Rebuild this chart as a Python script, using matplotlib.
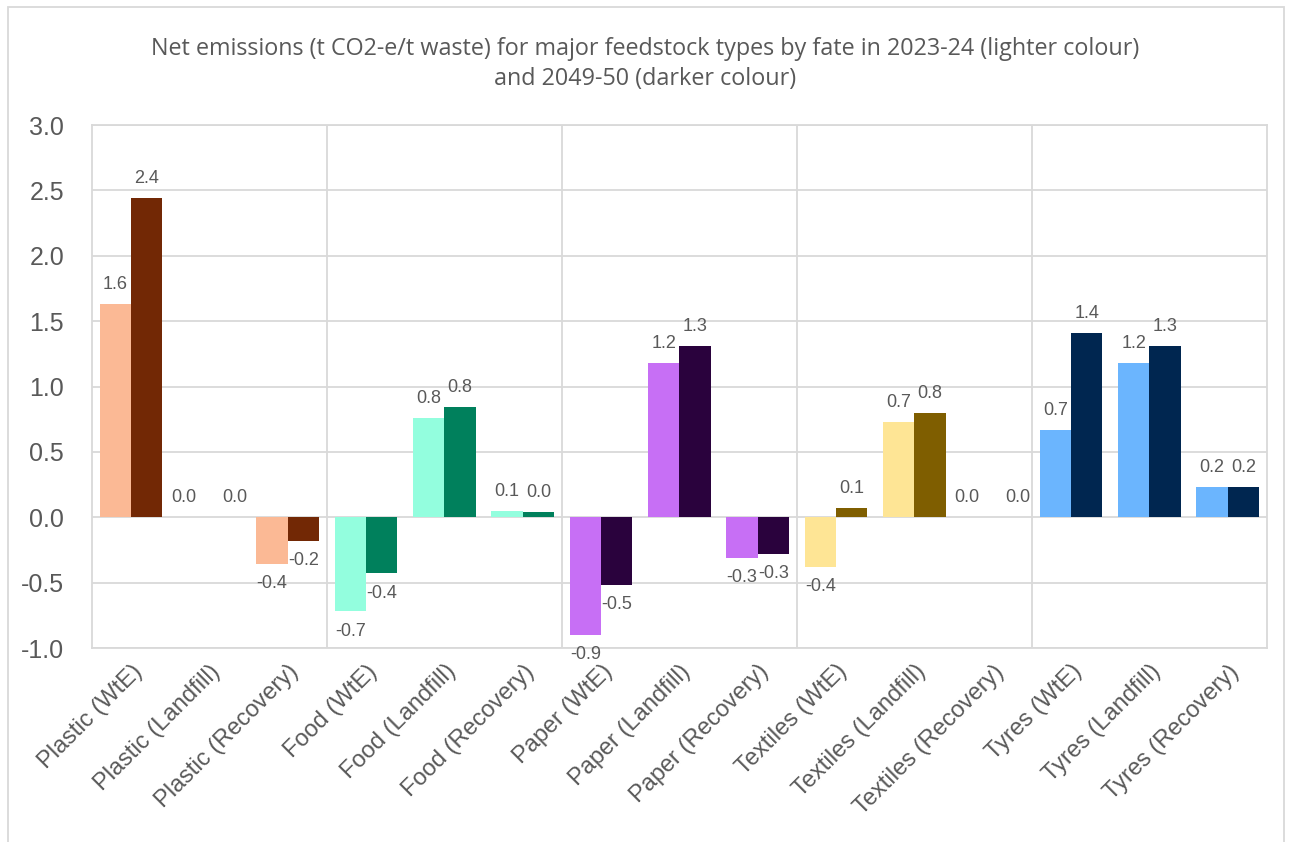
import numpy as np
import matplotlib
matplotlib.use("Agg")
import matplotlib.pyplot as plt
from matplotlib.patches import Rectangle

plt.rcParams['font.family'] = ['Liberation Sans', 'DejaVu Sans']

# datos
categorias = ["Plastic (WtE)", "Plastic (Landfill)", "Plastic (Recovery)",
              "Food (WtE)", "Food (Landfill)", "Food (Recovery)",
              "Paper (WtE)", "Paper (Landfill)", "Paper (Recovery)",
              "Textiles (WtE)", "Textiles (Landfill)", "Textiles (Recovery)",
              "Tyres (WtE)", "Tyres (Landfill)", "Tyres (Recovery)"]
valores_2024 = [1.63, 0.0, -0.36, -0.72, 0.76, 0.05, -0.90, 1.18, -0.31,
                -0.38, 0.73, 0.0, 0.67, 1.18, 0.23]
valores_2050 = [2.44, 0.0, -0.18, -0.43, 0.84, 0.04, -0.52, 1.31, -0.28,
                0.07, 0.80, 0.0, 1.41, 1.31, 0.23]
colores_claros = ["#FBB995"] * 3 + ["#93FEDE"] * 3 + ["#C76FF5"] * 3 + ["#FEE595"] * 3 + ["#6BB5FE"] * 3
colores_oscuros = ["#722805"] * 3 + ["#00805C"] * 3 + ["#2A023D"] * 3 + ["#7F5E00"] * 3 + ["#002650"] * 3

gris = "#595959"
grid = "#D9D9D9"

fig = plt.figure(figsize=(12.9, 8.42), dpi=100)
ax = fig.add_axes([0.0713, 0.2304, 0.9107, 0.6211])

x = np.arange(len(categorias))
ancho = 0.4
b1 = ax.bar(x - ancho / 2, valores_2024, ancho, color=colores_claros, zorder=3)
b2 = ax.bar(x + ancho / 2, valores_2050, ancho, color=colores_oscuros, zorder=3)

# etiquetas de datos
for barras, vals, dx in [(b1, valores_2024, -7), (b2, valores_2050, 7)]:
    for barra, v in zip(barras, vals):
        cx = barra.get_x() + barra.get_width() / 2
        if v == 0:
            ax.annotate(f"{v:.1f}", (cx, v), xytext=(dx, 8), textcoords="offset points",
                        ha="center", va="bottom", fontsize=13, color=gris)
        elif v > 0:
            ax.annotate(f"{v:.1f}", (cx, v), xytext=(0, 8), textcoords="offset points",
                        ha="center", va="bottom", fontsize=13, color=gris)
        else:
            ax.annotate(f"{v:.1f}", (cx, v), xytext=(0, -8), textcoords="offset points",
                        ha="center", va="top", fontsize=13, color=gris)

ax.set_xlim(-0.5, len(categorias) - 0.5)
ax.set_ylim(-1.0, 3.0)
ax.set_yticks(np.arange(-1.0, 3.01, 0.5))
ax.set_yticklabels([f"{t:.1f}" for t in np.arange(-1.0, 3.01, 0.5)])
ax.yaxis.grid(True, color=grid, linewidth=1.3, zorder=0)
for xv in [2.5, 5.5, 8.5, 11.5]:
    ax.axvline(xv, color=grid, linewidth=1.3, zorder=0)

ax.set_xticks(x)
ax.set_xticklabels(categorias, rotation=45, ha="right", rotation_mode="anchor", fontsize=17, color=gris)
ax.tick_params(axis="y", labelsize=18, labelcolor=gris, length=0, pad=20)
ax.tick_params(axis="x", length=0, pad=9)
for s in ax.spines.values():
    s.set_color(grid)
    s.set_linewidth(1.3)

fig.text(0.5, 0.924, "Net emissions (t CO2-e/t waste) for major feedstock types by fate in 2023-24 (lighter colour)\nand 2049-50 (darker colour)",
         ha="center", va="center", fontsize=16.8, color=gris, family=["Open Sans", "DejaVu Sans"], linespacing=1.35)

# marco exterior
fig.patches.append(Rectangle((8 / 1290, -0.01), 1276 / 1290, 1 - 7 / 842 + 0.01, transform=fig.transFigure,
                             fill=False, edgecolor=grid, linewidth=1.3))

fig.savefig("out.png", dpi=100)
